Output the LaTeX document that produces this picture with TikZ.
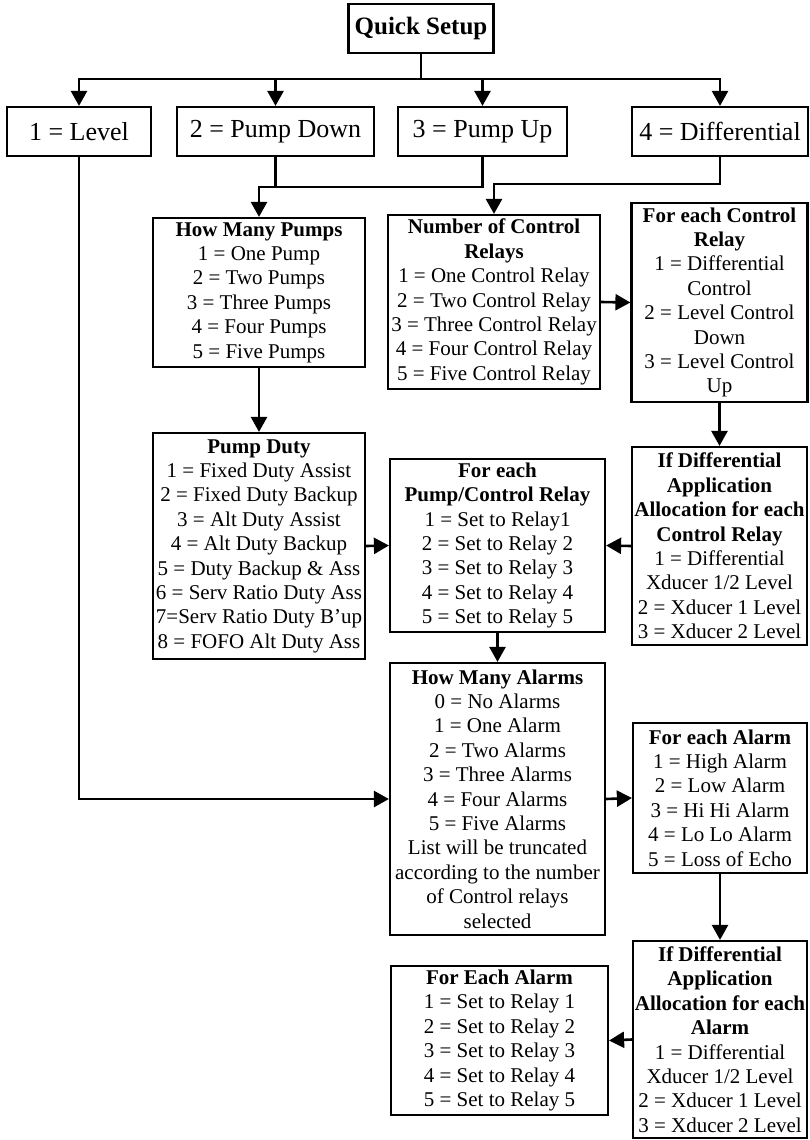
\documentclass[tikz,border=0pt]{standalone}
\usepackage{fontspec}
\setmainfont{Liberation Serif}
\usetikzlibrary{arrows.meta}

\begin{document}
\begin{tikzpicture}[x=1pt, y=-1pt, >={Triangle[length=15pt, width=16pt]},
    box/.style={draw, line width=2.2pt, align=center, inner sep=0pt,
        font=\fontsize{21}{24.4}\selectfont},
    topbox/.style={box, minimum height=49pt, font=\fontsize{26}{30}\selectfont},
    link/.style={line width=2.6pt}]
    \useasboundingbox (0,0) rectangle (809,1140);

    % Quick setup box
    \node[topbox, minimum width=145pt, font=\fontsize{25}{30}\selectfont\bfseries] (qs) at (421,28.5) {Quick Setup};

    % Application choices
    \node[topbox, minimum width=144pt] (lvl) at (79,131.5) {1 = Level};
    \node[topbox, minimum width=197pt] (pd) at (275.5,131.5) {2 = Pump Down};
    \node[topbox, minimum width=169pt] (pu) at (482.5,131.5) {3 = Pump Up};
    \node[topbox, minimum width=176pt] (dif) at (720,131.5) {4 = Differential};

    % Pumps and control relays
    \node[box, minimum width=212pt, minimum height=149pt] (hmp) at (259,292.5)
        {\textbf{How Many Pumps}\\1 = One Pump\\2 = Two Pumps\\3 = Three Pumps\\4 = Four Pumps\\5 = Five Pumps};
    \node[box, minimum width=212pt, minimum height=174pt] (ncr) at (494,302)
        {\textbf{Number of Control}\\\textbf{Relays}\\1 = One Control Relay\\2 = Two Control Relay\\3 = Three Control Relay\\4 = Four Control Relay\\5 = Five Control Relay};
    \node[box, minimum width=176pt, minimum height=199pt] (fecr) at (719.5,302.5)
        {\textbf{For each Control}\\\textbf{Relay}\\1 = Differential\\Control\\2 = Level Control\\Down\\3 = Level Control\\Up};

    % Duty and relay allocation
    \node[box, minimum width=212pt, minimum height=226pt] (pduty) at (259,546)
        {\textbf{Pump Duty}\\1 = Fixed Duty Assist\\2 = Fixed Duty Backup\\3 = Alt Duty Assist\\4 = Alt Duty Backup\\5 = Duty Backup \& Ass\\6 = Serv Ratio Duty Ass\\7=Serv Ratio Duty B'up\\8 = FOFO Alt Duty Ass};
    \node[box, minimum width=215pt, minimum height=173pt] (fepcr) at (497.5,545.5)
        {\textbf{For each}\\\textbf{Pump/Control Relay}\\1 = Set to Relay1\\2 = Set to Relay 2\\3 = Set to Relay 3\\4 = Set to Relay 4\\5 = Set to Relay 5};
    \node[box, minimum width=175pt, minimum height=198pt] (idcr) at (719.5,546)
        {\textbf{If Differential}\\\textbf{Application}\\\textbf{Allocation for each}\\\textbf{Control Relay}\\1 = Differential\\Xducer 1/2 Level\\2 = Xducer 1 Level\\3 = Xducer 2 Level};

    % Alarms
    \node[box, minimum width=215pt, minimum height=272pt] (hma) at (497.5,799)
        {\textbf{How Many Alarms}\\0 = No Alarms\\1 = One Alarm\\2 = Two Alarms\\3 = Three Alarms\\4 = Four Alarms\\5 = Five Alarms\\List will be truncated\\according to the number\\of Control relays\\selected};
    \node[box, minimum width=174pt, minimum height=150pt] (fea) at (720,798)
        {\textbf{For each Alarm}\\1 = High Alarm\\2 = Low Alarm\\3 = Hi Hi Alarm\\4 = Lo Lo Alarm\\5 = Loss of Echo};
    \node[box, minimum width=174pt, minimum height=197pt] (ida) at (720,1039.5)
        {\textbf{If Differential}\\\textbf{Application}\\\textbf{Allocation for each}\\\textbf{Alarm}\\1 = Differential\\Xducer 1/2 Level\\2 = Xducer 1 Level\\3 = Xducer 2 Level};
    \node[box, minimum width=217pt, minimum height=149pt] (fear) at (499.5,1040.5)
        {\textbf{For Each Alarm}\\1 = Set to Relay 1\\2 = Set to Relay 2\\3 = Set to Relay 3\\4 = Set to Relay 4\\5 = Set to Relay 5};

    % Branches from quick setup
    \coordinate (bus) at (421,79);
    \draw[link] (qs.south) -- (bus);
    \foreach \n in {lvl,pd,pu,dif}
        \draw[link, ->] (bus) -| (\n.north);

    % Pump down / pump up merge
    \coordinate (pj) at (259,187);
    \draw[link] (pd.south) -- (pd.south |- pj);
    \draw[link, ->] (pu.south) |- (pj) -- (hmp.north);

    % Differential path
    \coordinate (dj) at (494,184);
    \draw[link, ->] (dif.south) |- (dj) -- (ncr.north);
    \draw[link, ->] (ncr.east) -- (fecr.west);
    \draw[link, ->] (fecr.south) -- (idcr.north);

    % Towards relay allocation
    \draw[link, ->] (hmp.south) -- (pduty.north);
    \draw[link, ->] (pduty.east) -- (fepcr.west);
    \draw[link, ->] (idcr.west) -- (fepcr.east);
    \draw[link, ->] (fepcr.south) -- (hma.north);

    % Level path and alarms
    \draw[link, ->] (lvl.south) |- (hma.west);
    \draw[link, ->] (hma.east) -- (fea.west);
    \draw[link, ->] (fea.south) -- (ida.north);
    \draw[link, ->] (ida.west) -- (fear.east);
\end{tikzpicture}
\end{document}
